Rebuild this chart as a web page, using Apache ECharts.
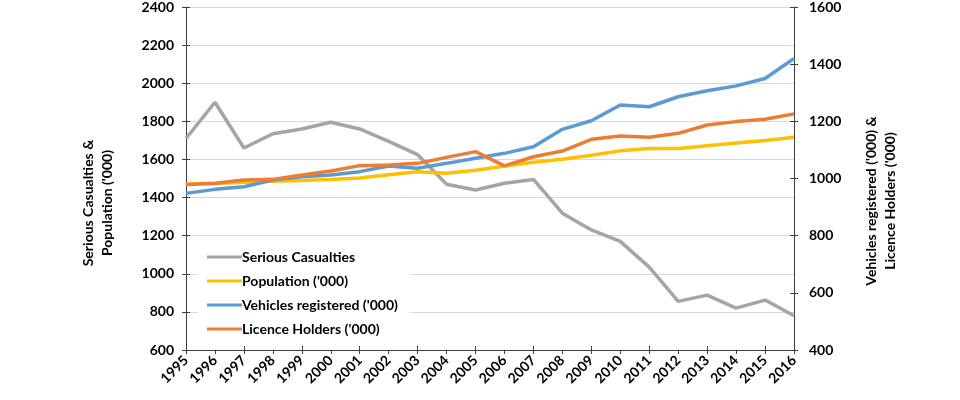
<!DOCTYPE html>
<html>
<head>
<meta charset="utf-8">
<script src="https://cdn.jsdelivr.net/npm/echarts@6/dist/echarts.min.js"></script>
<style>html,body{margin:0;padding:0;background:#fff;}#c{width:960px;height:400px;}</style>
</head>
<body>
<div id="c"></div>
<script>
const years = ['1995','1996','1997','1998','1999','2000','2001','2002','2003','2004','2005','2006','2007','2008','2009','2010','2011','2012','2013','2014','2015','2016'];
const seriousCasualties = [1710,1900,1660,1735,1760,1795,1760,1695,1625,1470,1440,1475,1495,1318,1230,1170,1035,855,888,820,862,780];
const population = [1470,1474,1480,1485,1490,1495,1503,1520,1535,1527,1543,1565,1585,1601,1622,1645,1657,1658,1672,1686,1700,1716];
const vehicles = [948,962,971,995,1006,1012,1024,1044,1036,1053,1071,1088,1111,1172,1202,1257,1251,1286,1307,1324,1350,1420];
const licenceHolders = [979,983,995,997,1012,1026,1045,1047,1053,1074,1094,1044,1076,1096,1137,1149,1144,1158,1187,1199,1207,1226];
const leftTicks = {min:600, max:2400, interval:200};
const rightTicks = {min:400, max:1600, interval:200};
const leftTitle = "Serious Casualties &\nPopulation ('000)";
const rightTitle = "Vehicles registered ('000) &\nLicence Holders ('000)";

const FONT = 'Lato, "Open Sans", sans-serif';
const AX = '#404040';
const chart = echarts.init(document.getElementById('c'));
const lbl = {fontFamily:FONT, fontWeight:'bold', fontSize:14, color:'#000', formatter:function(v){return String(v);}};
const titleStyle = function(t){ return {text:t, fontFamily:FONT, fontWeight:'bold', fontSize:14, fill:'#000', lineHeight:19, align:'center', verticalAlign:'middle'}; };
chart.setOption({
  animation:false,
  grid:{left:186, right:166, top:7, bottom:50, containLabel:false},
  graphic:[
    {type:'text', x:98, y:203, rotation:Math.PI/2, style:titleStyle(leftTitle)},
    {type:'text', x:881, y:201, rotation:Math.PI/2, style:titleStyle(rightTitle)}
  ],
  legend:{
    orient:'vertical', left:198, top:243, backgroundColor:'#fff',
    padding:[6,12,6,9], itemWidth:35, itemHeight:3, itemGap:8, icon:'rect',
    textStyle:{fontFamily:FONT, fontWeight:'bold', fontSize:14, color:'#000', lineHeight:16, padding:[0,0,0,-5]},
    data:['Serious Casualties',"Population ('000)","Vehicles registered ('000)","Licence Holders ('000)"]
  },
  xAxis:[
    {type:'category', data:years, boundaryGap:false,
     axisLine:{lineStyle:{color:AX, width:1}},
     axisTick:{show:true, length:4, inside:false, lineStyle:{color:AX}, alignWithLabel:true},
     axisLabel:{rotate:45, interval:0, margin:8, fontFamily:FONT, fontWeight:'bold', fontSize:14, color:'#000'},
     splitLine:{show:false}},
    {type:'category', data:years, boundaryGap:false, position:'bottom',
     axisLine:{show:false}, axisLabel:{show:false},
     axisTick:{show:true, length:4, inside:true, lineStyle:{color:AX}}, splitLine:{show:false}}
  ],
  yAxis:[
    {type:'value', min:leftTicks.min, max:leftTicks.max, interval:leftTicks.interval, position:'left',
     axisLine:{show:true, lineStyle:{color:AX}},
     axisTick:{show:true, length:4, lineStyle:{color:AX}},
     axisLabel:Object.assign({margin:12}, lbl),
     splitLine:{show:true, lineStyle:{color:'#D9D9D9', width:1}}},
    {type:'value', min:rightTicks.min, max:rightTicks.max, interval:rightTicks.interval, position:'right',
     axisLine:{show:true, lineStyle:{color:AX}},
     axisTick:{show:true, length:4, lineStyle:{color:AX}},
     axisLabel:Object.assign({margin:15}, lbl),
     splitLine:{show:false}},
    {type:'value', min:leftTicks.min, max:leftTicks.max, interval:leftTicks.interval, position:'left',
     axisLine:{show:false}, axisLabel:{show:false}, splitLine:{show:false},
     axisTick:{show:true, inside:true, length:4, lineStyle:{color:AX}}},
    {type:'value', min:rightTicks.min, max:rightTicks.max, interval:rightTicks.interval, position:'right',
     axisLine:{show:false}, axisLabel:{show:false}, splitLine:{show:false},
     axisTick:{show:true, inside:true, length:4, lineStyle:{color:AX}}}
  ],
  series:[
    {name:'Serious Casualties', type:'line', yAxisIndex:0, data:seriousCasualties, showSymbol:false, symbol:'none',
     lineStyle:{color:'#A5A5A5', width:3.5}, itemStyle:{color:'#A5A5A5'}, z:2},
    {name:"Population ('000)", type:'line', yAxisIndex:0, data:population, showSymbol:false, symbol:'none',
     lineStyle:{color:'#FFC000', width:3.5}, itemStyle:{color:'#FFC000'}, z:3},
    {name:"Vehicles registered ('000)", type:'line', yAxisIndex:1, data:vehicles, showSymbol:false, symbol:'none',
     lineStyle:{color:'#5B9BD5', width:3.5}, itemStyle:{color:'#5B9BD5'}, z:4},
    {name:"Licence Holders ('000)", type:'line', yAxisIndex:1, data:licenceHolders, showSymbol:false, symbol:'none',
     lineStyle:{color:'#ED7D31', width:3.5}, itemStyle:{color:'#ED7D31'}, z:5}
  ]
});
</script>
</body>
</html>
